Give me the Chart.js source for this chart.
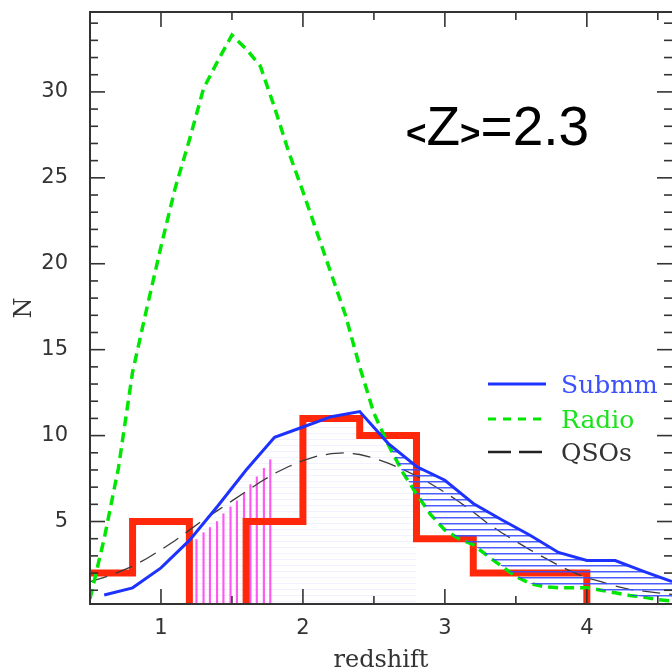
<!DOCTYPE html>
<html><head><meta charset="utf-8">
<script src="https://cdn.jsdelivr.net/npm/chart.js@4/dist/chart.umd.min.js"></script>
<style>
html,body{margin:0;padding:0;background:#fff;}
#wrap{position:relative;width:672px;height:670px;overflow:hidden;background:#fff;}
#c{position:absolute;left:0;top:0;}
#ov{position:absolute;left:0;top:0;pointer-events:none;}
</style></head><body>
<div id="wrap">
<canvas id="c" width="672" height="670"></canvas>
<svg id="ov" width="672" height="670" xmlns="http://www.w3.org/2000/svg"></svg>
</div>
<script>
// ---------- DATA ----------
const seriesNames = ['Submm', 'Radio', 'QSOs'];
const annotationText = '<Z>=2.3';

// Submm (blue solid)
const submmZ = [0.6, 0.8, 1.0, 1.2, 1.4, 1.6, 1.8, 2.0, 2.2, 2.4, 2.6, 2.8, 3.0, 3.2, 3.4, 3.6, 3.8, 4.0, 4.2, 4.4, 4.6];
const submmN = [0.72, 1.14, 2.3, 3.9, 5.9, 8.0, 9.9, 10.5, 11.1, 11.4, 9.55, 8.2, 7.4, 6.05, 5.1, 4.2, 3.2, 2.73, 2.73, 2.1, 1.5];

// Radio (green dashed)
const radioZ = [0.5, 0.6, 0.7, 0.8, 0.9, 1.0, 1.1, 1.2, 1.3, 1.4, 1.5, 1.6, 1.7, 1.8, 1.9, 2.0, 2.1, 2.2, 2.3, 2.4, 2.5, 2.6, 2.7, 2.8, 2.9, 3.0, 3.1, 3.2, 3.3, 3.4, 3.5, 3.6, 3.7, 3.8, 3.9, 4.0, 4.1, 4.2, 4.3, 4.4, 4.5, 4.6];
const radioN = [0.5, 4.0, 8.1, 13.7, 17.4, 21.0, 24.4, 27.2, 30.2, 31.8, 33.3, 32.5, 31.5, 29.1, 26.5, 24.2, 21.8, 19.4, 17.0, 14.0, 11.3, 9.5, 7.9, 6.6, 5.4, 4.5, 4.0, 3.65, 3.0, 2.4, 1.8, 1.4, 1.2, 1.15, 1.15, 1.15, 1.0, 0.85, 0.7, 0.6, 0.45, 0.37];

// QSOs (black long-dashed)
const qsoZ = [0.5, 0.6, 0.7, 0.8, 0.9, 1.0, 1.1, 1.2, 1.3, 1.4, 1.5, 1.6, 1.7, 1.8, 1.9, 2.0, 2.1, 2.2, 2.3, 2.4, 2.5, 2.6, 2.7, 2.8, 2.9, 3.0, 3.1, 3.2, 3.3, 3.4, 3.5, 3.6, 3.7, 3.8, 3.9, 4.0, 4.1, 4.2, 4.3, 4.4, 4.5, 4.6];
const qsoN = [1.5, 1.75, 2.05, 2.4, 2.85, 3.35, 3.9, 4.5, 5.1, 5.65, 6.2, 6.75, 7.3, 7.8, 8.2, 8.55, 8.8, 8.95, 9.0, 8.9, 8.7, 8.4, 8.05, 7.65, 7.2, 6.7, 6.15, 5.55, 4.9, 4.35, 3.85, 3.35, 2.9, 2.45, 2.05, 1.73, 1.5, 1.25, 1.05, 0.95, 0.85, 0.76];

// Red histogram (bin left edges and counts)
const histEdges = [0.4, 0.8, 1.2, 1.6, 2.0, 2.4, 2.8, 3.2, 3.6, 4.0];
const histCounts = [2, 5, 0, 5, 11, 10, 4, 2, 2, 0];

// Magenta vertical hatching
const hatchZ = [1.25, 1.30, 1.345, 1.395, 1.44, 1.49, 1.535, 1.585, 1.63, 1.675, 1.725, 1.77];
const hatchN = [3.95, 4.35, 4.65, 5.0, 5.45, 5.85, 6.2, 6.65, 7.15, 7.6, 8.1, 8.6];

// Axis ticks
const xTickLabels = [1, 2, 3, 4];
const yTickLabels = [5, 10, 15, 20, 25, 30];
const xMinorTicks = [0.5, 1.5, 2.5, 3.5, 4.5];
const yMinorTicks = [];
for (let v = 1; v <= 34; v++) if (v % 5 !== 0) yMinorTicks.push(v);

// ---------- STYLES ----------
const BLUE = 'rgb(30,50,255)';
const GREEN = 'rgb(0,232,0)';
const RED = 'rgb(255,40,10)';
const MAGENTA = 'rgb(255,90,240)';
const QSO = '#3a3a3a';
const AXIS = '#333';

function hatchPattern(c1, c2) {
  const p = document.createElement('canvas');
  p.width = 6; p.height = 6;
  const g = p.getContext('2d');
  g.fillStyle = c1; g.fillRect(0, 1, 6, 1);
  if (c2) { g.fillStyle = c2; g.fillRect(0, 2, 6, 1); }
  return g.createPattern(p, 'repeat');
}
const blueHatch = hatchPattern('rgba(55,75,255,0.9)', 'rgba(55,75,255,0.45)');
const faintHatch = hatchPattern('rgba(150,150,255,0.13)');

const pts = (xs, ys) => xs.map((x, i) => ({x, y: ys[i]}));
const faintRange = submmZ.map((z, i) => ({x: z, y: submmN[i]})).filter(p => p.x >= 1.2 && p.x <= 2.8);

const frameTicks = {
  id: 'frameTicks',
  afterDatasetsDraw(chart) {
    const {ctx, chartArea: a, scales: {x, y}} = chart;
    ctx.save();
    ctx.strokeStyle = AXIS;
    ctx.lineWidth = 1.6;
    const seg = (x1, y1, x2, y2) => { ctx.beginPath(); ctx.moveTo(x1, y1); ctx.lineTo(x2, y2); ctx.stroke(); };
    const MAJ = 15, MIN = 8;
    xTickLabels.forEach(v => { const p = x.getPixelForValue(v); seg(p, a.bottom, p, a.bottom - MAJ); seg(p, a.top, p, a.top + MAJ); });
    xMinorTicks.forEach(v => { const p = x.getPixelForValue(v); seg(p, a.bottom, p, a.bottom - MIN); seg(p, a.top, p, a.top + MIN); });
    yTickLabels.forEach(v => { const p = y.getPixelForValue(v); seg(a.left, p, a.left + MAJ, p); seg(a.right, p, a.right - MAJ, p); });
    yMinorTicks.forEach(v => { const p = y.getPixelForValue(v); seg(a.left, p, a.left + MIN, p); seg(a.right, p, a.right - MIN, p); });
    ctx.lineWidth = 2;
    ctx.beginPath();
    ctx.moveTo(a.right + 2, a.top); ctx.lineTo(a.left, a.top); ctx.lineTo(a.left, a.bottom); ctx.lineTo(a.right + 2, a.bottom);
    ctx.stroke();
    ctx.restore();
  }
};

const chart = new Chart(document.getElementById('c'), {
  type: 'line',
  data: {
    datasets: [
      { label: seriesNames[0], data: pts(submmZ, submmN), borderColor: BLUE, borderWidth: 3, pointRadius: 0, tension: 0,
        fill: {target: 1, above: blueHatch, below: 'rgba(0,0,0,0)'}, order: 0, clip: 0 },
      { label: seriesNames[1], data: pts(radioZ, radioN), borderColor: GREEN, borderWidth: 3.5, borderDash: [10, 6], pointRadius: 0, tension: 0,
        fill: false, order: 1, clip: 0 },
      { label: seriesNames[2], data: pts(qsoZ, qsoN), borderColor: QSO, borderWidth: 1.3, borderDash: [18, 9], pointRadius: 0, tension: 0,
        fill: false, order: 2, clip: 0 },
      { label: 'histogram', data: pts(histEdges, histCounts), borderColor: RED, borderWidth: 7, stepped: 'before', pointRadius: 0,
        fill: false, order: 3, clip: 0, borderJoinStyle: 'miter', borderCapStyle: 'butt' },
      { type: 'bar', label: 'hatch', data: pts(hatchZ, hatchN), backgroundColor: MAGENTA, barThickness: 1.5, order: 4 },
      { label: 'faint', data: faintRange, borderWidth: 0, borderColor: 'rgba(0,0,0,0)', pointRadius: 0, tension: 0,
        fill: {target: 'origin', above: faintHatch, below: 'rgba(0,0,0,0)'}, order: 5, clip: 0 }
    ]
  },
  options: {
    responsive: false,
    animation: false,
    devicePixelRatio: 1,
    layout: { autoPadding: false, padding: { top: 12, right: 0, bottom: 0, left: 0 } },
    plugins: { legend: { display: false }, tooltip: { enabled: false } },
    scales: {
      x: {
        type: 'linear', min: 0.5, max: 4.6, offset: false,
        grid: { display: false }, border: { display: false },
        afterBuildTicks: s => { s.ticks = xTickLabels.map(v => ({value: v})); },
        afterFit: s => { s.height = 66; s.paddingLeft = 0; s.paddingRight = 0; s.paddingTop = 0; s.paddingBottom = 0; },
        ticks: { padding: 4, color: AXIS, font: { family: 'DejaVu Sans', size: 21 }, maxRotation: 0, autoSkip: false },
        title: { display: true, text: 'redshift', color: AXIS, font: { family: 'DejaVu Serif', size: 24, lineHeight: 1 }, padding: { top: 0, bottom: -3 } }
      },
      y: {
        type: 'linear', min: 0.2, max: 34.65,
        grid: { display: false }, border: { display: false },
        afterBuildTicks: s => { s.ticks = yTickLabels.map(v => ({value: v})); },
        afterFit: s => { s.width = 90; s.paddingLeft = 0; s.paddingRight = 0; s.paddingTop = 0; s.paddingBottom = 0; },
        ticks: { padding: 14, color: AXIS, font: { family: 'DejaVu Sans', size: 21 }, autoSkip: false },
        title: { display: true, text: 'N', color: AXIS, font: { family: 'DejaVu Serif', size: 24 }, padding: { top: 10, bottom: 0 } }
      }
    }
  },
  plugins: [frameTicks]
});

// ---------- overlay text: annotation + legend ----------
const NS = 'http://www.w3.org/2000/svg';
const svg = document.getElementById('ov');
function el(tag, attrs, text) {
  const e = document.createElementNS(NS, tag);
  for (const k in attrs) e.setAttribute(k, attrs[k]);
  if (text !== undefined) e.textContent = text;
  svg.appendChild(e);
  return e;
}
// annotation
const ann = el('text', { x: 406, y: 145, 'font-family': 'Liberation Sans', 'font-size': 55, fill: '#000' });
annotationText.split('').forEach(ch => {
  const t = document.createElementNS(NS, 'tspan');
  if (ch === '<' || ch === '>') { t.setAttribute('font-size', 35); t.setAttribute('font-weight', 'bold'); }
  t.textContent = ch;
  ann.appendChild(t);
});
// legend
const legendRows = [
  { name: seriesNames[0], color: BLUE, text: 'rgb(60,80,255)', dash: '', width: 3, y: 384 },
  { name: seriesNames[1], color: GREEN, text: 'rgb(30,225,30)', dash: '8 7', width: 3, y: 419 },
  { name: seriesNames[2], color: '#222', text: '#333', dash: '23 8', width: 2.6, y: 452 }
];
legendRows.forEach(r => {
  const a = { x1: 488, y1: r.y, x2: 546, y2: r.y, stroke: r.color, 'stroke-width': r.width };
  if (r.dash) a['stroke-dasharray'] = r.dash;
  el('line', a);
  el('text', { x: 561, y: r.y + 8.5, 'font-family': 'DejaVu Serif', 'font-size': 25, fill: r.text }, r.name);
});
</script>
</body></html>
